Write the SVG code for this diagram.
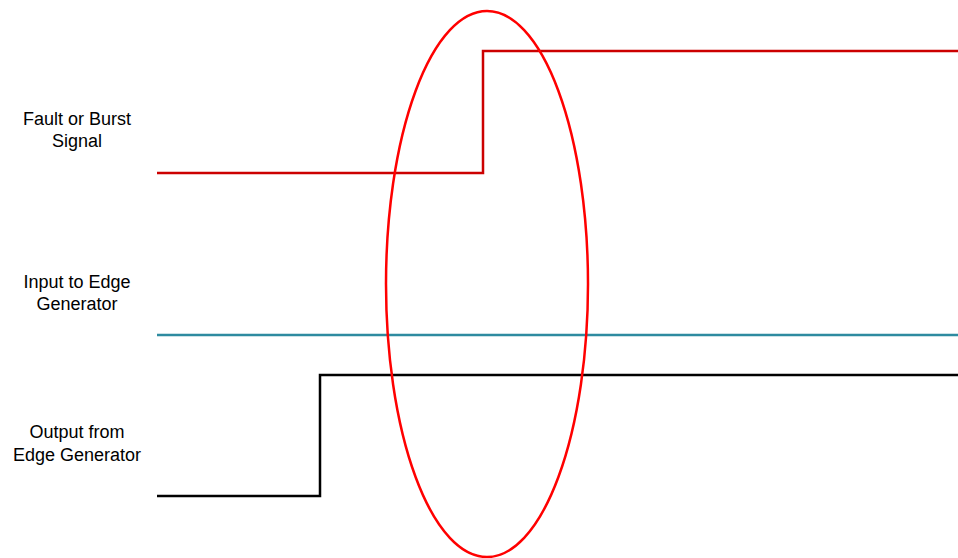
<svg xmlns="http://www.w3.org/2000/svg" width="958" height="558" viewBox="0 0 958 558">
<style>
.lbl{font-family:"Liberation Sans",Arial,sans-serif;font-size:18px;fill:#000;text-anchor:middle}
.sig{fill:none;stroke-width:2.5;stroke-linejoin:miter}
</style>
<rect width="958" height="558" fill="#fff"/>
<g id="label-fault"><text class="lbl" x="77" y="125">Fault or Burst</text><text class="lbl" x="77" y="147">Signal</text></g>
<g id="label-input"><text class="lbl" x="77" y="288">Input to Edge</text><text class="lbl" x="77" y="310">Generator</text></g>
<g id="label-output"><text class="lbl" x="77" y="438">Output from</text><text class="lbl" x="77" y="461">Edge Generator</text></g>
<g id="connectors">
<polyline id="fault" class="sig" stroke="#CC0000" points="157,173 483,173 483,51 958,51"/>
<line id="input" class="sig" stroke="#2E8BA0" x1="157" y1="335" x2="958" y2="335"/>
<polyline id="output" class="sig" stroke="#000" points="157,496 320,496 320,375 958,375"/>
</g>
<g id="highlight"><ellipse cx="487" cy="284" rx="101" ry="273" fill="none" stroke="#FF0000" stroke-width="2.5"/></g>
</svg>
